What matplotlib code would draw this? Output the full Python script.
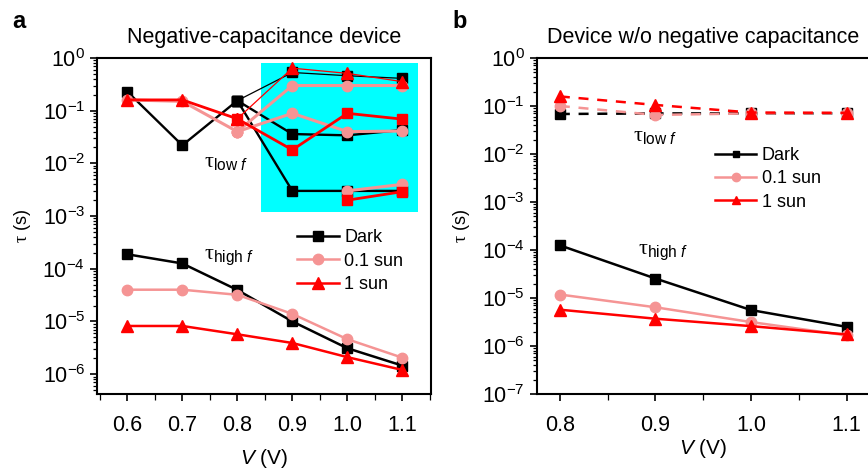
import matplotlib
matplotlib.use('Agg')
import matplotlib.pyplot as plt
from matplotlib.patches import Rectangle
from matplotlib.ticker import LogLocator, MultipleLocator, NullFormatter

plt.rcParams['font.family'] = ['Liberation Sans', 'DejaVu Sans']
plt.rcParams['mathtext.fontset'] = 'custom'
plt.rcParams['mathtext.rm'] = 'Liberation Serif'
plt.rcParams['mathtext.sf'] = 'Liberation Sans'
plt.rcParams['mathtext.it'] = 'Liberation Sans:italic'

black = '#000000'
pink = '#F59494'
red = '#FF0000'

# ---- panel a : negative-capacitance device ----
va_main = [0.6, 0.7, 0.8]
va_branch = [0.8, 0.9, 1.0, 1.1]
va_end = [1.0, 1.1]
va_high = [0.6, 0.7, 0.8, 0.9, 1.0, 1.1]

# low-frequency tau, dark
dark_low_main = [0.23, 0.022, 0.155]
dark_low_b1 = [0.155, 0.53, 0.46, 0.41]
dark_low_b2 = [0.155, 0.036, 0.034, 0.043]
dark_low_b3 = [0.155, 0.003, 0.003, 0.003]
# low-frequency tau, 0.1 sun
pink_low_main = [0.16, 0.15, 0.04]
pink_low_b1 = [0.04, 0.30, 0.30, 0.30]
pink_low_b2 = [0.04, 0.089, 0.04, 0.041]
pink_low_end = [0.003, 0.004]
# low-frequency tau, 1 sun
red_low_main = [0.16, 0.16, 0.07]
red_low_b1 = [0.07, 0.64, 0.51, 0.355]
red_low_b2 = [0.07, 0.018, 0.089, 0.069]
red_low_end = [0.002, 0.0029]

# high-frequency tau
dark_high_a = [1.88e-4, 1.26e-4, 3.96e-5, 1.0e-5, 3.1e-6, 1.45e-6]
pink_high_a = [4.0e-5, 4.0e-5, 3.2e-5, 1.39e-5, 4.6e-6, 2.05e-6]
red_high_a = [8.2e-6, 8.2e-6, 5.7e-6, 3.9e-6, 2.1e-6, 1.2e-6]

# ---- panel b : device without negative capacitance ----
vb = [0.8, 0.9, 1.0, 1.1]
dark_low_b = [0.068, 0.07, 0.07, 0.07]
pink_low_b = [0.10, 0.065, 0.07, 0.07]
red_low_b = [0.158, 0.105, 0.073, 0.072]
dark_high_b = [1.25e-4, 2.54e-5, 5.6e-6, 2.5e-6]
pink_high_b = [1.18e-5, 6.4e-6, 3.15e-6, 1.66e-6]
red_high_b = [5.7e-6, 3.7e-6, 2.59e-6, 1.74e-6]

labels = ['Dark', '0.1 sun', '1 sun']

fig = plt.figure(figsize=(8.68, 4.72), dpi=100)
ax1 = fig.add_axes([0.1118, 0.1653, 0.3847, 0.7119])
ax2 = fig.add_axes([0.6181, 0.1653, 0.3842, 0.7119])

sq = dict(marker='s', markersize=7)
ci = dict(marker='o', markersize=7.5)
tr = dict(marker='^', markersize=8)

# cyan box
ax1.add_patch(Rectangle((0.843, 0.00118), 1.129 - 0.843, 0.81 - 0.00118,
                        facecolor='#00FFFF', edgecolor='none', zorder=0))

# low f, panel a
ax1.plot(va_main, dark_low_main, color=black, lw=1.7, **sq)
ax1.plot(va_branch, dark_low_b1, color=black, lw=0.9, **sq)
ax1.plot(va_branch, dark_low_b2, color=black, lw=1.7, **sq)
ax1.plot(va_branch, dark_low_b3, color=black, lw=1.7, **sq)
ax1.plot(va_main, pink_low_main, color=pink, lw=2.2, **ci)
ax1.plot(va_branch, pink_low_b1, color=pink, lw=2.2, **ci)
ax1.plot(va_branch, pink_low_b2, color=pink, lw=2.2, **ci)
ax1.plot(va_end, pink_low_end, color=pink, lw=2.2, **ci)
ax1.plot(va_main, red_low_main, color=red, lw=2.0, **tr)
ax1.plot(va_branch, red_low_b1, color=red, lw=0.9, **tr)
ax1.plot(va_branch, red_low_b2, color=red, lw=2.0, **sq)
ax1.plot(va_end, red_low_end, color=red, lw=2.0, **sq)

# high f, panel a
ax1.plot(va_high, dark_high_a, color=black, lw=1.8, label=labels[0], **sq)
ax1.plot(va_high, pink_high_a, color=pink, lw=1.8, label=labels[1], **ci)
ax1.plot(va_high, red_high_a, color=red, lw=1.8, label=labels[2], **tr)

# panel b
dash = (0, (4, 3.5))
ax2.plot(vb, dark_low_b, color=black, lw=1.8, ls=dash, **sq)
ax2.plot(vb, pink_low_b, color=pink, lw=1.8, ls=dash, **ci)
ax2.plot(vb, red_low_b, color=red, lw=1.8, ls=dash, **tr)
ax2.plot(vb, dark_high_b, color=black, lw=1.8, **sq)
ax2.plot(vb, pink_high_b, color=pink, lw=1.8, **ci)
ax2.plot(vb, red_high_b, color=red, lw=1.8, **tr)
hb = [ax2.plot([], [], color=black, lw=1.8, marker='s', markersize=5)[0],
      ax2.plot([], [], color=pink, lw=1.8, marker='o', markersize=6)[0],
      ax2.plot([], [], color=red, lw=1.8, marker='^', markersize=6)[0]]

tick_fs = 15.5
for ax in (ax1, ax2):
    ax.set_yscale('log')
    ax.yaxis.set_major_locator(LogLocator(base=10, numticks=20))
    ax.yaxis.set_minor_locator(LogLocator(base=10, subs=range(2, 10), numticks=20))
    ax.yaxis.set_minor_formatter(NullFormatter())
    ax.xaxis.set_major_locator(MultipleLocator(0.1))
    ax.xaxis.set_minor_locator(MultipleLocator(0.05))
    ax.tick_params(which='major', direction='out', length=5, width=1.2, labelsize=tick_fs)
    ax.tick_params(which='minor', direction='out', length=3, width=0.9)
    ax.tick_params(axis='x', which='major', pad=10)
    ax.tick_params(axis='x', which='minor', length=4)
    for s in ax.spines.values():
        s.set_linewidth(1.5)
    ax.set_ylabel(r'$\mathrm{\tau}$ (s)', fontsize=13, labelpad=7)

ax1.set_xlim(0.545, 1.152)
ax1.set_ylim(4.2e-7, 1)
ax1.set_xticks([0.6, 0.7, 0.8, 0.9, 1.0, 1.1])
ax1.set_xticklabels(['0.6', '0.7', '0.8', '0.9', '1.0', '1.1'])
ax1.set_xlabel(r'$\mathit{V}$ (V)', fontsize=15, labelpad=8)
ax2.set_xlim(0.7756, 1.1244)
ax2.set_ylim(1e-7, 1)
ax2.set_xticks([0.8, 0.9, 1.0, 1.1])
ax2.set_xticklabels(['0.8', '0.9', '1.0', '1.1'])
ax2.set_xlabel(r'$\mathit{V}$ (V)', fontsize=15, labelpad=1)

ax1.set_title('Negative-capacitance device', fontsize=15.5, pad=11)
ax2.set_title('Device w/o negative capacitance', fontsize=15.5, pad=11)
fig.text(0.014, 0.94, 'a', fontsize=17, fontweight='bold')
fig.text(0.521, 0.94, 'b', fontsize=17, fontweight='bold')

low_lbl = r'$\mathrm{\tau}_{\mathsf{low}\ \mathit{f}}$'
high_lbl = r'$\mathrm{\tau}_{\mathsf{high}\ \mathit{f}}$'
ax1.text(0.74, 0.0102, low_lbl, fontsize=16, va='center')
ax1.text(0.74, 1.66e-4, high_lbl, fontsize=16, va='center')
ax2.text(0.876, 0.023, low_lbl, fontsize=16, va='center')
ax2.text(0.882, 8.9e-5, high_lbl, fontsize=16, va='center')

ax1.legend(loc='upper left', bbox_to_anchor=(0.6, 0.49), frameon=False,
           fontsize=13, handlelength=2.3, handletextpad=0.3,
           labelspacing=0.35, borderpad=0, borderaxespad=0)
ax2.legend(hb, labels, loc='upper left', bbox_to_anchor=(0.535, 0.735), frameon=False,
           fontsize=13, handlelength=2.3, handletextpad=0.3,
           labelspacing=0.35, borderpad=0, borderaxespad=0)

fig.savefig('out.png', dpi=100)
